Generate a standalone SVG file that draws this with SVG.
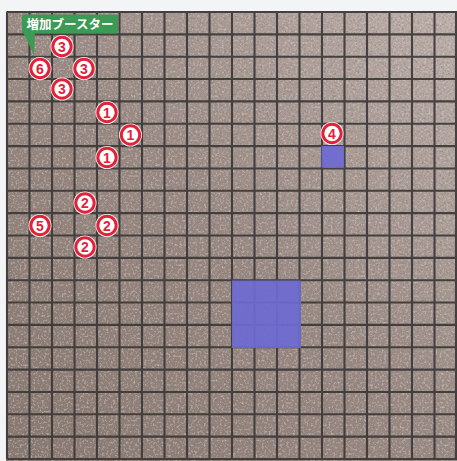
<svg xmlns="http://www.w3.org/2000/svg" width="457" height="461" viewBox="0 0 457 461">
<defs>
<linearGradient id="bg" x1="0" y1="1" x2="1" y2="0">
<stop offset="0" stop-color="#87776e"/>
<stop offset="0.5" stop-color="#998982"/>
<stop offset="1" stop-color="#bdafaa"/>
</linearGradient>
<filter id="tex" x="0" y="0" width="100%" height="100%">
<feTurbulence type="fractalNoise" baseFrequency="0.45" numOctaves="3" seed="7" result="n"/>
<feColorMatrix in="n" type="matrix" values="0 0 0 0 0.24  0 0 0 0 0.19  0 0 0 0 0.17  -1.6 0 0 0 0.85" result="d"/>
<feColorMatrix in="n" type="matrix" values="0 0 0 0 0.85  0 0 0 0 0.8  0 0 0 0 0.79  0 1.0 0 0 -0.5" result="l"/>
<feMerge result="m"><feMergeNode in="d"/><feMergeNode in="l"/></feMerge>
<feComposite in="m" in2="SourceGraphic" operator="atop"/>
</filter>
<style>
.grid{fill:none;stroke:#3a3636;stroke-width:2.1;stroke-opacity:0.9}
.blue{fill:#6d6bd2;opacity:0.93}
.ring{fill:#fff;stroke:#e2223a;stroke-width:3}
.halo{fill:#fdf6f4}
.num{font-family:"Liberation Sans",Arial,sans-serif;font-weight:bold;font-size:14px;fill:#e2223a;text-anchor:middle}
.lbl{font-family:"Noto Sans CJK JP","Noto Sans",sans-serif;font-weight:bold;font-size:12.5px;fill:#fff;text-anchor:middle}
</style>
</defs>
<rect x="0" y="0" width="457" height="461" fill="#f3f4f6"/>
<g id="board">
<rect x="6" y="11" width="451" height="450" fill="url(#bg)" filter="url(#tex)"/>
<path class="grid" d="M7 12V459M29.5 12V459M52 12V459M74.5 12V459M97 12V459M119.5 12V459M142 12V459M164.5 12V459M187 12V459M209.5 12V459M232 12V459M254.5 12V459M277 12V459M299.5 12V459M322 12V459M344.5 12V459M367 12V459M389.5 12V459M412 12V459M434.5 12V459M456 12V459M7 12H457M7 34.35H457M7 56.7H457M7 79.05H457M7 101.4H457M7 123.75H457M7 146.1H457M7 168.45H457M7 190.8H457M7 213.15H457M7 235.5H457M7 257.85H457M7 280.2H457M7 302.55H457M7 324.9H457M7 347.25H457M7 369.6H457M7 391.95H457M7 414.3H457M7 436.65H457M7 459H457"/>
</g>
<g id="blue-small"><rect class="blue" x="321.5" y="146" width="22.5" height="21.5"/></g>
<g id="blue-large"><rect class="blue" x="232" y="280.5" width="69" height="67.5"/></g>
<g id="connectors"></g>
<g id="label-booster">
<polygon points="23,32 35,32 34,55" fill="#3d9a55"/>
<rect x="22" y="14.5" width="96" height="19" rx="2" fill="#3d9a55"/>
<text class="lbl" x="70" y="29">増加ブースター</text>
</g>
<g id="n3a"><circle class="halo" cx="62" cy="46.5" r="11.5"/><circle class="ring" cx="62" cy="46.5" r="9.2"/><text class="num" x="62" y="51.5">3</text></g>
<g id="n6"><circle class="halo" cx="40" cy="68.5" r="11.5"/><circle class="ring" cx="40" cy="68.5" r="9.2"/><text class="num" x="40" y="73.5">6</text></g>
<g id="n3b"><circle class="halo" cx="84" cy="68.5" r="11.5"/><circle class="ring" cx="84" cy="68.5" r="9.2"/><text class="num" x="84" y="73.5">3</text></g>
<g id="n3c"><circle class="halo" cx="62" cy="89" r="11.5"/><circle class="ring" cx="62" cy="89" r="9.2"/><text class="num" x="62" y="94">3</text></g>
<g id="n1a"><circle class="halo" cx="107" cy="112.5" r="11.5"/><circle class="ring" cx="107" cy="112.5" r="9.2"/><text class="num" x="107" y="117.5">1</text></g>
<g id="n1b"><circle class="halo" cx="130.5" cy="135" r="11.5"/><circle class="ring" cx="130.5" cy="135" r="9.2"/><text class="num" x="130.5" y="140">1</text></g>
<g id="n1c"><circle class="halo" cx="107" cy="157.5" r="11.5"/><circle class="ring" cx="107" cy="157.5" r="9.2"/><text class="num" x="107" y="162.5">1</text></g>
<g id="n2a"><circle class="halo" cx="85" cy="203" r="11.5"/><circle class="ring" cx="85" cy="203" r="9.2"/><text class="num" x="85" y="208">2</text></g>
<g id="n5"><circle class="halo" cx="40" cy="225.5" r="11.5"/><circle class="ring" cx="40" cy="225.5" r="9.2"/><text class="num" x="40" y="230.5">5</text></g>
<g id="n2b"><circle class="halo" cx="107" cy="225.5" r="11.5"/><circle class="ring" cx="107" cy="225.5" r="9.2"/><text class="num" x="107" y="230.5">2</text></g>
<g id="n2c"><circle class="halo" cx="85" cy="247" r="11.5"/><circle class="ring" cx="85" cy="247" r="9.2"/><text class="num" x="85" y="252">2</text></g>
<g id="n4"><circle class="halo" cx="332" cy="133.5" r="11.5"/><circle class="ring" cx="332" cy="133.5" r="9.2"/><text class="num" x="332" y="138.5">4</text></g>
</svg>
